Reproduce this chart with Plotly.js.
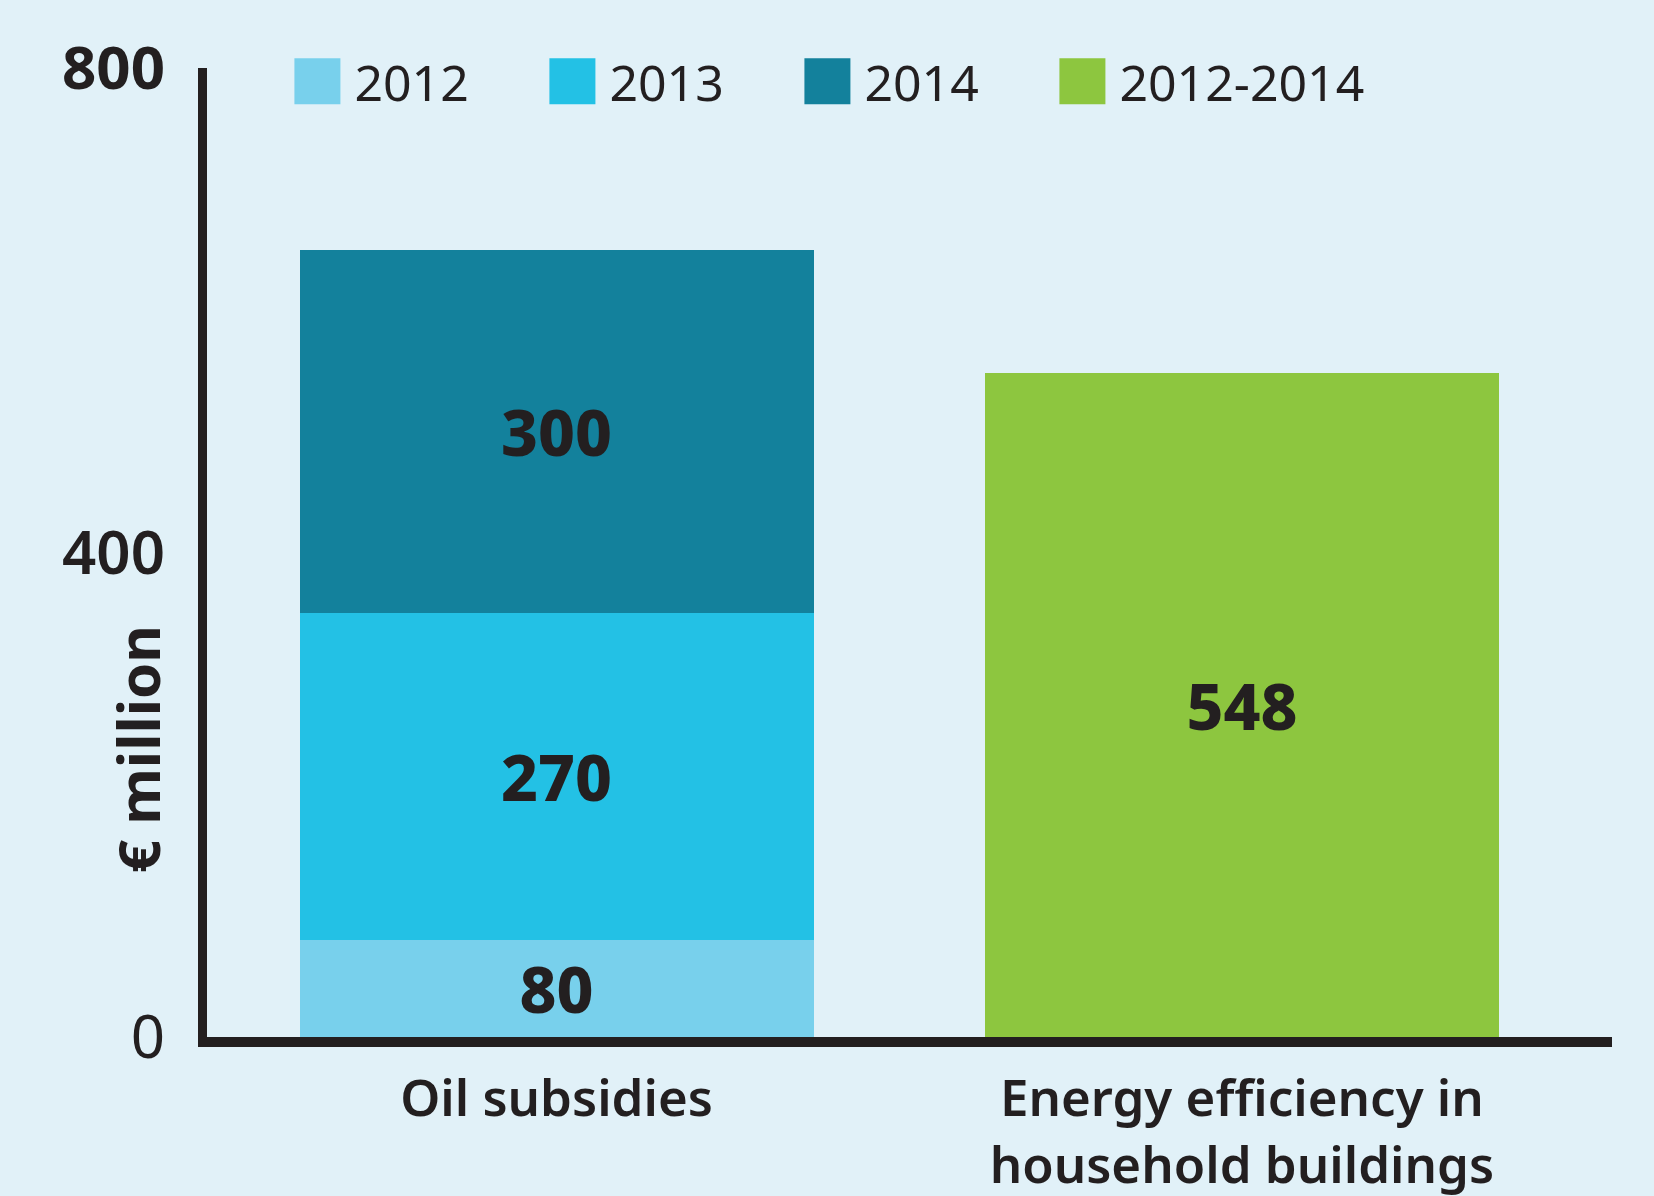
<!DOCTYPE html>
<html>
<head>
<meta charset="utf-8">
<script src="https://cdn.plot.ly/plotly-3.0.1.min.js"></script>
<style>html,body{margin:0;padding:0;background:#e1f1f8;}#chart{width:1654px;height:1196px;}</style>
</head>
<body>
<div id="chart"></div>
<script>
// ---- data ----
const categories = ['Oil subsidies', 'Energy efficiency in household buildings'];
const tickLabels = ['Oil subsidies', 'Energy efficiency in<br>household buildings'];
const seriesNames = ['2012', '2013', '2014', '2012-2014'];
const values2012 = [80, null];
const values2013 = [270, null];
const values2014 = [300, null];
const values2012to2014 = [null, 548];
const yTickVals = [0, 400, 800];
const yTickText = ['<span style="font-weight:400">0</span>', '400', '<b>800</b>'];
const yAxisLabel = '€ million';

const colors = ['#78d0ec', '#23c1e5', '#13819c', '#8dc63f'];
const seriesValues = [values2012, values2013, values2014, values2012to2014];
const FONT = 'Noto Sans, Open Sans, sans-serif';
const INK = '#231f20';

const traces = seriesNames.map((name, i) => ({
  type: 'bar',
  name: name,
  x: categories,
  y: seriesValues[i],
  width: 0.75,
  marker: {color: colors[i], line: {width: 0}},
  texttemplate: '%{y}',
  textposition: 'inside',
  insidetextanchor: 'middle',
  textangle: 0,
  textfont: {family: FONT, size: 64, weight: 800, color: INK},
  hoverinfo: 'skip'
}));

const layout = {
  width: 1654,
  height: 1196,
  paper_bgcolor: '#e1f1f8',
  plot_bgcolor: '#e1f1f8',
  barmode: 'stack',
  showlegend: true,
  margin: {l: 207, r: 42, t: 68, b: 159, pad: 0, autoexpand: false},
  font: {family: FONT, color: INK},
  xaxis: {
    type: 'category',
    range: [-0.51, 1.54],
    tickvals: categories,
    ticktext: tickLabels,
    showline: true,
    linewidth: 10,
    linecolor: INK,
    ticks: '',
    showgrid: false,
    zeroline: false,
    tickfont: {family: FONT, size: 51, weight: 600, color: INK},
    ticklabelstandoff: 8
  },
  yaxis: {
    range: [0, 800],
    tickvals: yTickVals,
    ticktext: yTickText,
    showline: true,
    linewidth: 9,
    linecolor: INK,
    ticks: '',
    showgrid: false,
    zeroline: false,
    tickfont: {family: FONT, size: 60, weight: 600, color: INK},
    ticklabelstandoff: 21
  },
  legend: {
    orientation: 'h',
    traceorder: 'normal',
    xref: 'container', yref: 'container',
    x: 0.178, y: 0.932,
    xanchor: 'left', yanchor: 'middle',
    font: {family: FONT, size: 50, weight: 400, color: INK},
    bgcolor: 'rgba(0,0,0,0)',
    itemwidth: 50,
    entrywidth: 190,
    itemclick: false,
    itemdoubleclick: false
  },
  annotations: [{
    text: yAxisLabel,
    xref: 'paper', yref: 'paper',
    x: (137 - 207) / 1405, y: (1037 - 749) / (1037 - 68),
    xanchor: 'center', yanchor: 'middle',
    textangle: -90,
    showarrow: false,
    font: {family: FONT, size: 58, weight: 700, color: INK}
  }]
};

Plotly.newPlot('chart', traces, layout, {displayModeBar: false, staticPlot: true}).then(gd => {
  gd.querySelectorAll('.legend .scrollbox').forEach(s => s.removeAttribute('clip-path'));
  gd.querySelectorAll('.legend').forEach(s => s.removeAttribute('clip-path'));
  gd.querySelectorAll('.legend .traces').forEach(g => {
    g.querySelectorAll('.legendpoints path').forEach(p => {
      p.setAttribute('d', 'M23,23H-23V-23H23Z');
      p.setAttribute('transform', 'translate(23,0)');
    });
  });
});
</script>
</body>
</html>
